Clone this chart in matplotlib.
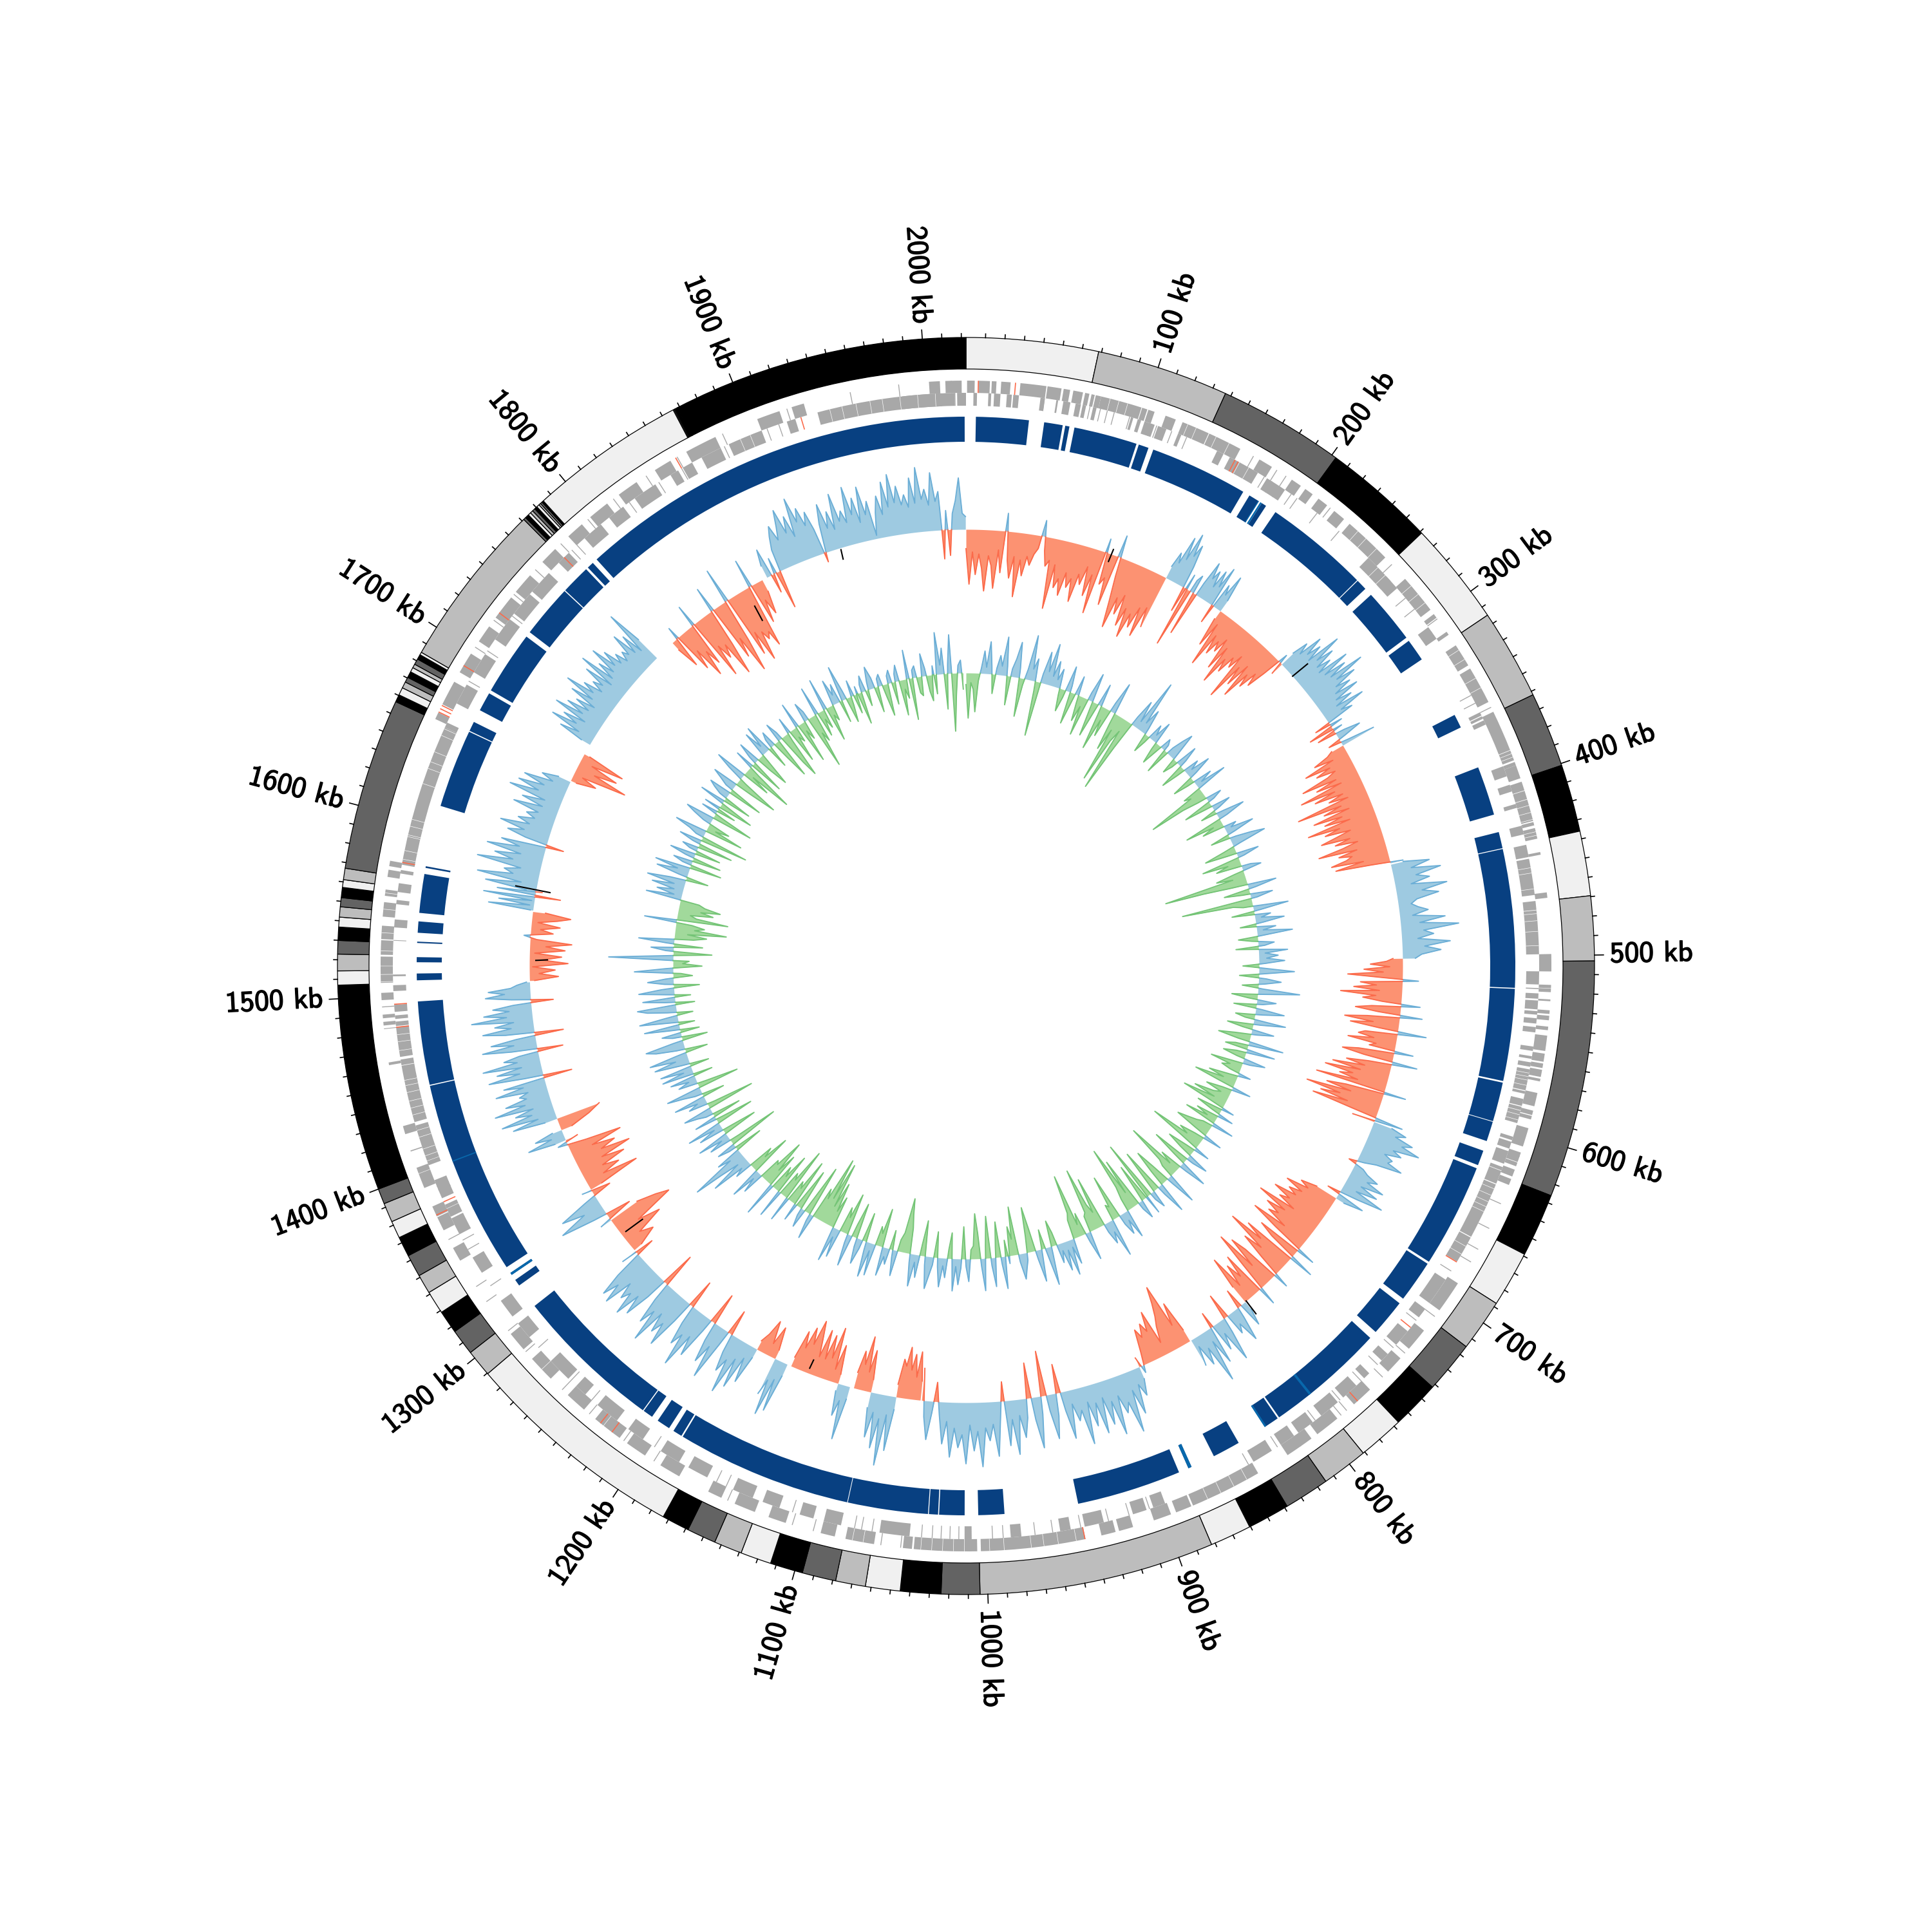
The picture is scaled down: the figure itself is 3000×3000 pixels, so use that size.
#!/usr/bin/env python3
# circular genome map: contigs, genes, blocks, two signal tracks
import numpy as np
import matplotlib
matplotlib.use('Agg')
import matplotlib.pyplot as plt
import matplotlib.patheffects as pe

genome_kb = 2022.4

# outer ring, contig ends in kb (colours cycle, starts with lightest)
contig_ends = [68.5, 137, 202.5, 261, 315, 362, 401, 436, 469.5, 503, 626, 659, 688, 715, 742, 767,
               791, 815, 838.6, 860.5, 882, 1004, 1024, 1045, 1063, 1078.5, 1096, 1113, 1129, 1143.6,
               1158.7, 1173, 1289.6, 1303.6, 1317, 1329, 1341, 1351, 1362.6, 1373, 1382, 1392, 1400,
               1507, 1514.3, 1522.9, 1529.9, 1536.8, 1541.9, 1547.2, 1551.9, 1557.2, 1561.2, 1567.1,
               1656.5, 1660.4, 1664.4, 1667.7, 1670.4, 1673.6, 1676, 1678, 1681, 1683.6, 1685,
               1771.2, 1772.5, 1774.5, 1776, 1777.5, 1779, 1780.5, 1782, 1783, 1784, 1785,
               1866.4, 1866.9, 1867.4, 1868.7, 1868.9, 1869.1, 1869.3, 2022.4]
grey_cycle = ['#f0f0f0', '#bdbdbd', '#636363', '#000000']

# blue block track, start / end in kb
block_starts = [5.8, 46, 58.5, 64, 103, 112, 174.5, 183, 192.6, 255.5, 266.8, 301.7, 352.8, 386.5, 426.3, 436.5,
                519, 574.5, 598.2, 616, 627, 690, 718.4, 745, 817, 844, 875, 883, 988.6, 1012, 1027.6, 1033.5,
                1081.4, 1186.5, 1195, 1207, 1213.6, 1317, 1324.6, 1330, 1446.6, 1508.4, 1519, 1530.3, 1536.3, 1548, 1574.6,
                1612, 1659.2, 1672.7, 1686, 1727, 1759.2, 1778, 1785]
block_ends = [37, 57, 61, 101.6, 109, 170.3, 181, 186, 255, 262, 299.4, 315, 361, 415.7, 436, 518.4,
              573.5, 597.8, 610, 625, 688.6, 715, 740.3, 816, 826, 860.5, 877, 945, 1004, 1027, 1033, 1081,
              1185.6, 1192, 1203, 1213, 1302, 1321, 1326, 1446, 1496, 1512.4, 1522, 1531.1, 1543, 1571, 1575.6,
              1658.6, 1665, 1684, 1723.8, 1758.6, 1776.6, 1782, 2021.6]
bright_starts = [792.5, 825, 875, 1324.6, 1399.5, 180.5, 182]
bright_ends = [794, 826.2, 877, 1326, 1400.2, 181, 183]

# gene runs in kb, outer row and inner row
plus_runs = [(0.6, 4.8), (7, 13.2), (14.2, 16.8), (19.4, 24.6), (30, 44.4), (45, 52.8), (54, 57.6), (59.4, 64.8), (66, 68.4), (69.6, 71.4),
             (72, 75), (75, 98), (98.4, 101.4), (102, 105.6), (112, 118), (122, 137.6), (138, 157), (169, 177), (190, 196), (199, 204), (208, 214),
             (219, 226), (230, 257), (273, 295), (298, 300.5), (310, 312), (319, 332), (334, 355),
             (361, 384), (384.3, 390), (391, 393), (393, 400.5), (402.5, 407.5), (407.8, 412.5), (412.8, 425), (425.6, 427.5), (429, 435),
             (442.5, 444), (465, 468), (499, 505.6), (505.6, 508.6), (516, 517.8), (518, 520), (524, 525), (530, 532), (533, 535.5), (539, 541),
             (544, 552.5), (554, 558.5), (559.5, 562), (563, 567), (568, 569.5), (576, 583.5), (586, 588.5), (589, 591), (596, 606.5), (610, 615.5),
             (615.8, 618), (620, 624), (625.5, 629), (690, 708), (722, 735), (742, 752), (766, 778), (790, 804), (808, 824), (843, 883), (884, 893),
             (896, 906), (918, 926), (928, 936), (945, 1003), (1005, 1040), (1041, 1046), (1062, 1078), (1084, 1092), (1112, 1122), (1130, 1142),
             (1150, 1158), (1176, 1188), (1198, 1210), (1215, 1232), (1240, 1252), (1265, 1280), (1287, 1298), (1347, 1355), (1366, 1374),
             (1374.5, 1380.5), (1391.6, 1400), (1400.2, 1403.5), (1413, 1413.6), (1423, 1427.6), (1462, 1463.5), (1482, 1482.4), (1484, 1486),
             (1488, 1490), (1494, 1494.5), (1498, 1502), (1507.5, 1516.7), (1516.9, 1522), (1523, 1531), (1531.6, 1539), (1544, 1552), (1555.5, 1559),
             (1566, 1570), (1572, 1575), (1657, 1661), (1666, 1680), (1686, 1698), (1706, 1716), (1722, 1736), (1740, 1752), (1762, 1772), (1782, 1792),
             (1798, 1810), (1818, 1830), (1842, 1852), (1862, 1880), (1905, 1918), (1925, 1932), (2002, 2008), (2011, 2020)]
minus_runs = [(-36, -13.8), (-6.5, -6), (-5, 0), (4.2, 6.2), (12.6, 14.2), (15.8, 19.4), (23, 25.8), (26.6, 29.8), (42, 44.4), (51, 52), (55, 59),
              (62, 65), (66, 68), (72, 74), (94, 95.4), (98, 100), (102, 108), (110, 115), (122, 124), (146, 150), (154, 172), (178, 190), (250.5, 274),
              (265, 268), (302, 310), (358, 360), (360.5, 362), (363, 365.6), (391, 397), (402, 406), (413.3, 415.6), (426, 431), (437, 444), (445, 465.6),
              (469, 474), (474.3, 499), (508.6, 516), (518, 518.6), (521, 524), (525, 530), (531, 533), (535, 538), (540, 543), (551, 553.5), (556.5, 558),
              (560, 562.5), (564, 576), (576.5, 578), (581, 585), (585.5, 587.5), (587.8, 595), (603, 605), (606, 610), (611.5, 619), (621, 623), (623.3, 631),
              (631.5, 664), (664.5, 680), (692, 708), (712, 718), (728, 738), (745, 750), (760, 764), (770, 780), (784, 796), (802, 812), (815, 824), (830, 842),
              (897, 904), (908, 916), (933, 944), (952, 958), (980, 986), (1008, 1012), (1043, 1060), (1082, 1092), (1098, 1106), (1118, 1128), (1134, 1146),
              (1162, 1174), (1180, 1192), (1204, 1214), (1222, 1236), (1245, 1252), (1258, 1272), (1290, 1300), (1305, 1316), (1335, 1345), (1360, 1370),
              (1371, 1376), (1376.2, 1378.5), (1382.5, 1388), (1387, 1390), (1389.5, 1393.5), (1402.5, 1405), (1405.2, 1426), (1428, 1460.5), (1460.8, 1464),
              (1465.5, 1482.5), (1483, 1485.5), (1487, 1489), (1491, 1495), (1502.7, 1506), (1511, 1512), (1531, 1531.4), (1538.5, 1543), (1551.6, 1554),
              (1558.5, 1563.5), (1569, 1571), (1574, 1655), (1655, 1658), (1670, 1682), (1690, 1702), (1712, 1726), (1730, 1744), (1746, 1760), (1768, 1776),
              (1788, 1800), (1806, 1816), (1824, 1838), (1848, 1853), (1856, 1862), (1868, 1880), (1885, 1905), (1920, 1925), (1938, 2016)]
# single narrow genes
thin_plus = [165, 170, 180, 186, 216, 262, 301, 358, 612, 640, 655, 668, 676, 712, 738, 756, 783, 787, 815, 850, 1047, 1058, 1096, 1108, 1146, 1192, 1212,
             1236, 1256, 1285, 1300, 1320, 1330, 1360, 1702, 1720, 1738, 1756, 1776, 1796, 1814, 1836, 1856, 1884, 1922, 1958, 1985, 2014]
thin_minus = [44, 58, 70, 76, 80, 84, 93, 106, 109, 118, 127, 160, 176, 181, 186, 194, 198, 212, 228, 262, 268, 281, 289, 305, 347, 352,
              686, 720, 740, 753, 766, 782, 800, 826, 845, 906, 918, 930, 946, 962, 972, 990, 996, 1015, 1020, 1025, 1030, 1036, 1064, 1070, 1074,
              1110, 1150, 1156, 1196, 1240, 1256, 1282, 1326, 1350, 1356, 1684, 1704, 1728, 1778, 1782, 1820, 1840, 1855, 1882, 1908, 1915]
red_plus = [6.5, 27, 775, 945, 1220, 1228, 1375, 1690, 1725, 1855, 1661, 1663, 1665]
red_minus = [157, 159, 725, 680, 1380, 1575, 1772, 1928, 1495, 1482]
# hairline breaks between neighbouring genes
white_plus = [386, 388, 416, 420, 424, 431, 433, 1508, 1512, 1525, 1535, 1548, 1557, 80, 85, 90, 125, 130, 142, 150, 236, 242, 250, 278, 284, 290, 322, 328, 340, 346,
              850, 858, 866, 874, 950, 960, 968, 975, 990, 998, 1012, 1018, 1024, 1030, 1036, 1068, 1074, 1272, 1226]
white_minus = [1654, 1650, 1640, 1634, 1630, 1621, 1600, 1596, 1591, 1590, 1582, 1577, 1478, 1474, 1469, 1452, 1449, 1445, 1440, 1436, 1432, 1423, 1419, 1412, 1408,
               450, 453, 462, 476, 480, 486, 494, 566, 568, 570, 573, 590, 593, 634, 638, 642, 645, 648, 1945, 1952, 1960, 1968, 1975, 1985, 1995, 2005, 1892, 1898,
               670, 675, 160, 166, 258, 264]

# middle track, (start kb, end kb) and values; >0 blue outward, <0 red inward
skew_starts = [0, 153, 200, 260, 335, 430, 500, 623, 686, 788, 838, 880, 1045, 1063, 1082, 1098, 1107, 1147, 1157, 1172, 1289, 1317, 1344, 1385, 1393, 1402, 1506, 1558, 1572, 1658, 1688, 1785, 1870]
skew_ends = [153, 200, 260, 335, 429, 500, 623, 686, 788, 837, 880, 1044, 1063, 1082, 1095, 1107, 1144, 1157, 1172, 1288, 1317, 1344, 1385, 1393, 1402, 1505, 1557, 1572, 1657, 1680, 1769, 1866, 2022]
skew_values = [
    [-30, -85, -35, -70, -38, -60, -95, -40, -55, -90, -30, -65, 28, -45, -72, -38, -100, -42, -66, -35, -48, -30, -20, 25, -22, -45, -35, -110, -40, -75, -60, -85, -48, -70, -55, -90, -45, -60, -30, -75, -40, -100, 22, -50, -38, -80, 35, -30, -70, -110, -60, -85, -52, -100, -70, -115, -75, -95, -60, -105, -55, -85],
    [20, 45, 30, 75, 40, 85, 50, 70, 35, -40, 25, -95, 20, 30, -70, 22, 60, 35, 50, 25, 55, 30, 65, -30, 40, 25, 60, 20],
    [-15, -60, -20, -90, -35, -65, -40, -55, -30, -80, -40, -100, -55, -75, -45, -60, -35, -110, -50, -80, -40, -95, -50, -70, -40, -60, -30, 15, -20],
    [25, 50, 32, 70, 40, 62, 35, 90, 45, 72, 38, 60, 35, 85, 40, 75, 45, 100, 50, 80, 42, 65, 35, 72, 30, 55, 25, 70, 28, 45, -25, 20, -40, 15, -30, 15, 40, 12, -20, 12, 55],
    [-20, -30, -55, -25, -75, -35, -60, -30, -45, -90, -35, -70, -30, -100, -45, -80, -35, -60, -30, -115, -45, -75, -35, -95, -50, -80, -40, -110, -60, -85, -45, -70, -95, -50, -75, -40, -65, -105, -45, -75, -55, -65, -90, -40, -85, -30, 20],
    [20, 60, 30, 75, 35, 55, 25, 80, 40, 65, 30, 20, 30, 45, 20, 70, 30, 90, 35, 50, 25, 75, 35, 60, 30, 20],
    [-15, -25, -50, -20, -60, -30, -85, -35, 25, -65, -40, -75, -35, -95, -40, -60, -30, 30, -45, -70, -35, 35, -50, -85, -40, -75, -30, 45, -50, -60, -35, -75, -30, -40, 30, -55, -80, -45, 40, -35, -70, -40, -90, -45, -100, -55, -75, -45, -110, 35, -60, -90, -50, -120, -65, -95, -50, -105, -40, 45, -35],
    [30, 55, 40, 70, 55, 85, 45, 60, 35, 50, 45, 70, 30, 12, -12, 15, 25, 45, 30, 60, 25, 55, 22, 70, 30, -20, 45, 15],
    [-35, -60, -45, -80, -50, -70, -55, -90, -60, -75, -45, -105, -55, -85, -60, -75, -40, -95, -50, 30, -70, -45, 40, -85, -55, -110, -45, -75, -35, 25, -60, -85, -35, -100, -45, 30, -70, -35, -60, -25, -80, -30],
    [15, 40, -30, 18, 55, 22, 35, -40, 25, 70, 20, 45, -25, 60, 20, 85, 25, 50, 15, 45],
    [-20, -70, -35, -105, -80, -60, -45, -20, -75, -45, -60, -40, -55, -20, 12, -15],
    [20, 45, 25, 70, 30, 95, 45, 60, 30, 90, 35, 70, 25, 80, 30, 65, 25, 90, 35, 50, 22, 75, 30, -45, 35, 70, 25, -70, 28, 80, 35, -55, 30, 60, 25, 85, 30, 70, -30, 25, 85, 35, 60, 40, 100, 45, 75, 35, 95, 50, 70, 40, 85, 30, 65, 20, -30, 18, 60, 25, -50],
    [-30, -75, -35, -70, -45, -80, -50, -60, -20],
    [20, 85, 30, 110, 38, 85, 30, 70, 25],
    [-20, -65, -30, -85, -40, -60, -25],
    [20, 85, 25, 50, 12],
    [-15, -60, -20, -85, -35, -70, -30, -75, -30, -60, -85, -45, -70, -35, -60, -15],
    [20, 80, 30, 90, 35, 60],
    [-15, -50, -20, -55, -30, -15],
    [15, 60, 22, 75, 30, 90, 38, 60, 30, -40, 25, 85, 35, 65, 30, -50, 20, 70, 40, 95, 45, 65, 30, -45, 35, 85, 50, 70, 40, 95, 45, 70, 30, -55, 35, 75, 45, 85, 50, 65, 40, 85, 55, 80, 45, -30, 25],
    [-15, -45, -25, -70, -35, -100, -80, -50],
    [18, -40, 22, 75, 30, 65, 20, -30, 15],
    [-20, -85, -30, -60, -35, -75, -40, -90, -45, -70, -35, -85, -30, 15, -20],
    [18, 60, 20, 45, 15],
    [-18, -50, -70],
    [20, 70, 28, 85, 35, 60, 30, 90, 40, 70, 35, 45, 30, 80, 35, 65, -45, 30, 85, 35, 70, 30, 90, 35, 55, 30, -40, 40, 85, 35, 70, 30, -45, 45, 80, 35, 60, 30, 95, 40, 75, 35, 60, 28, -35, 30, 70, 40, 65, 30, 20, 5],
    [-8, -45, -15, -40, -5, -60, -20, -50, -8, -55, -25, -65, -10, 10, -35, -15, -45, -10, -40, -60, -20],
    [4, 70, 6, 55, 4, 80, -40, 60, -10],
    [15, 80, 25, 95, 40, 55, 30, 100, 45, 75, 35, 90, 40, 70, -28, 35, 65, 40, 80, 35, 55, 30, 45, 28, 70, 25, 60, 25, 85, 40, 75, 35, 70, 25, 45, 20],
    [-10, -40, -15, -85, -30, -65, -20, -70, -10],
    [15, 55, 25, 75, 35, 60, 25, 80, 35, 65, 30, 55, 25, 70, 35, 85, 40, 60, 30, 50, 35, 70, 25, 85, 30, 60, 35, 80, 40, 65, 35, 50, 30, 45, 35, 70, 30, 60, 25, 95, 40],
    [-15, -50, 20, -65, -35, -85, -45, -70, 35, -100, -50, -75, -55, -110, -60, 40, -90, -60, -120, -70, 55, -100, -65, -115, -70, -85, -75, -100, 45, -65, -30, -55, -20],
    [20, 45, -30, 25, -60, 35, 55, 70, 45, 65, 90, 50, 75, 40, 100, 60, 80, 50, 70, 40, -15, 45, 75, 35, 60, 30, 85, 40, 55, 35, 90, 45, 70, 30, 85, 40, 60, 5, 40, 65, 35, 85, 45, 95, 50, 75, 45, 60, 40, 85, 45, 100, 50, 65, 40, 90, 45, 60, -45, 30, -40, 25, 45, 80, 25, 20],
]
black_kb = [109, 272, 787, 1130, 1303, 1521, 1573, 1851, 1928]
black_in = [-12, 0, 0, -22, -40, -10, -22, -55, -18]
black_out = [8, 30, 25, -8, -8, -28, 32, -30, -3]

# inner track, values per 100 kb stretch; >0 blue outward, <0 green inward
gc_sections = [
    [-18, -70, -15, -25, -60, -12, 8, 35, 10, 50, 12, -30, 10, 30, 14, 60, 15, -45, 12, 28, 55, 14, -60, -10, 16, 70, 18, 35, -15, -85, 14, 50, 20, 65, 15, 40],
    [12, 30, -10, -35, -12, 40, 10, -50, -14, 30, -12, -40, -15, -60, 12, 45, -12, -55, -14, 35, -16, -70, -20, -45, 15, 50, -18, -60, -25, -110, -40, -20, -120, -45, 15, 45],
    [12, 85, 15, 40, 10, -30, -10, 25, 10, 35, -12, -35, -10, 18, 10, -40, 12, 30, 45, 10, -25, -10, 35, 12, -40, -14, 25, 10, 40, 12, -35, -12, 30, 10, 50, -30],
    [-20, -95, -40, -15, 25, 10, -45, -12, 30, 10, -25, 12, 45, 14, -60, -15, -35, 20, 10, 45, 12, -30, 10, 35, 55, 12, -18, -50, -15, 35, 10, -60, -20, -40, 15, 30],
    [-15, -45, -20, -130, -70, -25, 45, 12, -40, -12, 35, 10, -110, -30, -15, 55, 12, -35, 25, 10, 45, 12, -25, 30, 10, 55, 12, -30, -10, 25, 10, -35, 45, 10, 30, 12],
    [40, 10, -25, 12, 55, 10, -30, 12, 35, 10, -25, 8, 65, 12, -40, -14, 30, 10, -35, 10, 45, 12, -30, -14, 50, 12, -40, -15, 35, 10, -25, -50, -18, 55, -20, -35],
    [45, -15, -35, -12, 35, 12, -50, -18, -30, -15, 20, -12, -45, -20, -65, -25, 30, -15, -40, -14, -25, -55, -20, -70, -25, 20, -40, -15, 25, -35, -15, -50, 35, -15, -25, -40],
    [-55, -20, 30, -15, -40, -25, -85, -30, 25, -15, -45, -20, 35, 12, -60, -20, 45, 12, -35, -15, -90, -30, -20, 50, 12, -30, -60, -25, 50, 15, -70, -25, 28, 12, -95, 30],
    [-60, -15, 30, 12, -80, -25, -105, -40, -20, 45, 14, 35, 16, -70, -20, -25, 60, 18, 35, 14, -80, -25, -40, -100, -30, -25, 45, 15, -35, -18, -100, -40, -30, 40, 12, 55],
    [14, 45, 12, 30, -20, -40, 12, 60, 14, -30, 10, 50, 14, -35, -70, -25, 12, 25, 40, 12, -75, -25, -45, 12, -25, 50, 12, -55, -15, 45, 12, -65, -20, 50, 12, -40],
    [-70, -20, -14, 35, 12, -50, 14, 40, 12, 50, -40, -14, 30, 12, 45, 14, -40, 12, 30, 50, 14, -55, -18, 35, 12, 50, 14, -40, -60, -85, -30, -18, 40, 12, -30, 25],
    [14, 45, -60, -20, -30, 50, 12, 55, 14, -45, 14, 40, 14, -55, -20, 50, 14, -65, -25, -40, 45, 14, 55, -50, -25, -70, -30, -100, -40, -105, -35, -50, 40, 12, -80, -30],
    [30, 12, -65, -20, 28, -75, -25, -35, 40, -85, -30, -40, 45, -65, -25, -40, 55, -55, -25, -75, -30, -35, 35, 12, 50, -65, -25, -40, 28, 14, 65, 15, 45, 90, 20, 40],
    [-45, 12, 30, -80, -15, 35, 12, 50, -55, -14, 40, 12, 55, -60, -12, 35, -45, 12, 25, 45, -75, -12, 30, 14, 50, -35, 12, 30, 55, -65, -14, 30, 12, 40, -30, 50],
    [14, 50, -30, 14, 55, 20, 60, 16, -35, 14, 45, 60, 16, -40, 14, 30, -30, 14, 55, -25, 14, 60, 18, -25, 14, 45, 60, -30, 16, 50, -25, 14, 55, 20, -40, 14],
    [40, 12, -30, -12, 60, 12, -45, -15, -25, 100, 14, -60, 12, 35, -45, 12, 55, -30, -50, -20, -80, -30, -45, -25, 50, -80, -30, -20, -55, -35, -65, -40, -30, 55, 12, 40],
    [14, 50, 16, 60, 25, -35, 14, 50, 18, 55, -50, 14, 30, -45, 14, 40, -40, 12, 25, -55, 12, 35, -75, 12, 25, 50, -60, -14, -35, 12, 30, 45, -65, -14, 25, -30],
    [25, -55, -12, 40, -45, 12, 25, 35, -55, 12, 25, 40, -30, -70, -12, 25, 50, -45, -14, -80, -18, 30, -55, 12, 35, -25, -55, -14, 40, 12, 45, -35, 14, 25, -30, -65],
    [30, 12, -50, -75, -14, 25, -55, -15, -25, 40, -65, -14, -30, 30, 14, -85, -30, -45, 45, -40, -14, -30, 50, -55, -15, -25, 40, 14, 30, -35, 55, 14, -40, -15, 25, -30],
    [12, -50, 12, 25, -25, 12, 35, 16, -40, 12, 18, -20, -50, 12, 20, -35, 12, 25, -55, -15, -30, 45, -65, 12, 18, -25, -30, 35, 12, -25, -40, 14, -30, 65, 14, 40],
    [-55, 14, 60, -90, -35, 12, 20, -25],
]

tick_major = list(range(100, 2001, 100))
tick_labels = ['%d kb' % k for k in tick_major]


def th(kb):
    return np.asarray(kb, dtype=float) / genome_kb * 2 * np.pi


def ring(ax, starts, ends, r0, r1, color, **kw):
    s = th(starts)
    e = th(ends)
    ax.bar(s, r1 - r0, width=e - s, bottom=r0, align='edge', color=color, linewidth=0, **kw)


def signal(ax, kb, vals, base, pos, neg):
    # split the polyline where it crosses the baseline, so each side gets its colour
    x, y = [], []
    for i in range(len(vals)):
        if i > 0 and vals[i] * vals[i - 1] < 0:
            t = vals[i - 1] / (vals[i - 1] - vals[i])
            x.append(kb[i - 1] + t * (kb[i] - kb[i - 1]))
            y.append(0.0)
        x.append(kb[i])
        y.append(vals[i])
    x = np.array(x)
    y = np.array(y, dtype=float)
    t = th(x)
    ax.fill_between(t, base, base + np.maximum(y, 0), color=pos[1], linewidth=0, zorder=2)
    ax.fill_between(t, base, base + np.minimum(y, 0), color=neg[1], linewidth=0, zorder=2)
    ax.plot(t, base + np.where(y >= 0, y, np.nan), color=pos[0], lw=0.45, zorder=3)
    ax.plot(t, base + np.where(y <= 0, y, np.nan), color=neg[0], lw=0.45, zorder=3)


fig = plt.figure(figsize=(10, 10), dpi=300)
ax = fig.add_axes([0, 0, 1, 1], polar=True)
ax.set_theta_zero_location('N')
ax.set_theta_direction(-1)
ax.set_ylim(0, 1500)
ax.axis('off')

# contig ring
R_in, R_out = 927, 976
prev = 0
for i, end in enumerate(contig_ends):
    ax.bar(th(prev), R_out - R_in, width=th(end) - th(prev), bottom=R_in, align='edge',
           color=grey_cycle[i % 4], edgecolor='black', linewidth=0.3)
    prev = end

# scale ticks, every 10 kb
for k in range(10, 2021, 10):
    length = 14 if k % 100 == 0 else 6
    ax.plot([th(k), th(k)], [R_out, R_out + length], color='black', lw=0.4, zorder=4)
bold = [pe.withStroke(linewidth=0.35, foreground='black')]
for k, lab in zip(tick_major, tick_labels):
    a = float(th(k))
    deg = np.degrees(a)
    if deg < 180:
        ax.text(a, 1000, lab, rotation=90 - deg, rotation_mode='anchor', ha='left', va='center',
                family='cmss10', fontsize=10.9, path_effects=bold)
    else:
        ax.text(a, 1000, lab, rotation=270 - deg, rotation_mode='anchor', ha='right', va='center',
                family='cmss10', fontsize=10.9, path_effects=bold)

# genes
gene_grey = '#a8a8a8'
ring(ax, [r[0] for r in plus_runs], [r[1] for r in plus_runs], 890, 909, gene_grey)
ring(ax, [r[0] for r in minus_runs], [r[1] for r in minus_runs], 870, 890, gene_grey)
ring(ax, thin_plus, np.array(thin_plus) + 0.5, 890, 909, gene_grey)
ring(ax, thin_minus, np.array(thin_minus) + 0.5, 870, 890, gene_grey)
ring(ax, white_plus, np.array(white_plus) + 0.25, 890, 909, 'white')
ring(ax, white_minus, np.array(white_minus) + 0.25, 870, 890, 'white')
ring(ax, red_plus, np.array(red_plus) + 0.6, 890, 909, '#fb6a4a')
ring(ax, red_minus, np.array(red_minus) + 0.6, 870, 890, '#fb6a4a')

# blocks
ring(ax, block_starts, block_ends, 814, 853, '#084081')
ring(ax, bright_starts, bright_ends, 814, 853, '#0868ac')

# middle track
blue = ('#6baed6', '#9ecae1')
red = ('#fb6a4a', '#fc9272')
green = ('#74c476', '#a1d99b')
for s, e, v in zip(skew_starts, skew_ends, skew_values):
    signal(ax, np.linspace(s, e, len(v)), v, 678, blue, red)
for k, a, b in zip(black_kb, black_in, black_out):
    ax.plot([th(k), th(k + 0.5)], [678 + a, 678 + b], color='black', lw=0.5, zorder=4)

# inner track
gc_x = np.concatenate([np.linspace(100 * i, 100 * i + (100 if i < 20 else 22), len(v), endpoint=False)
                       for i, v in enumerate(gc_sections)])
gc_y = np.concatenate(gc_sections).astype(float)
signal(ax, gc_x, gc_y, 455, blue, green)

fig.savefig('out.png', dpi=300, facecolor='white')
